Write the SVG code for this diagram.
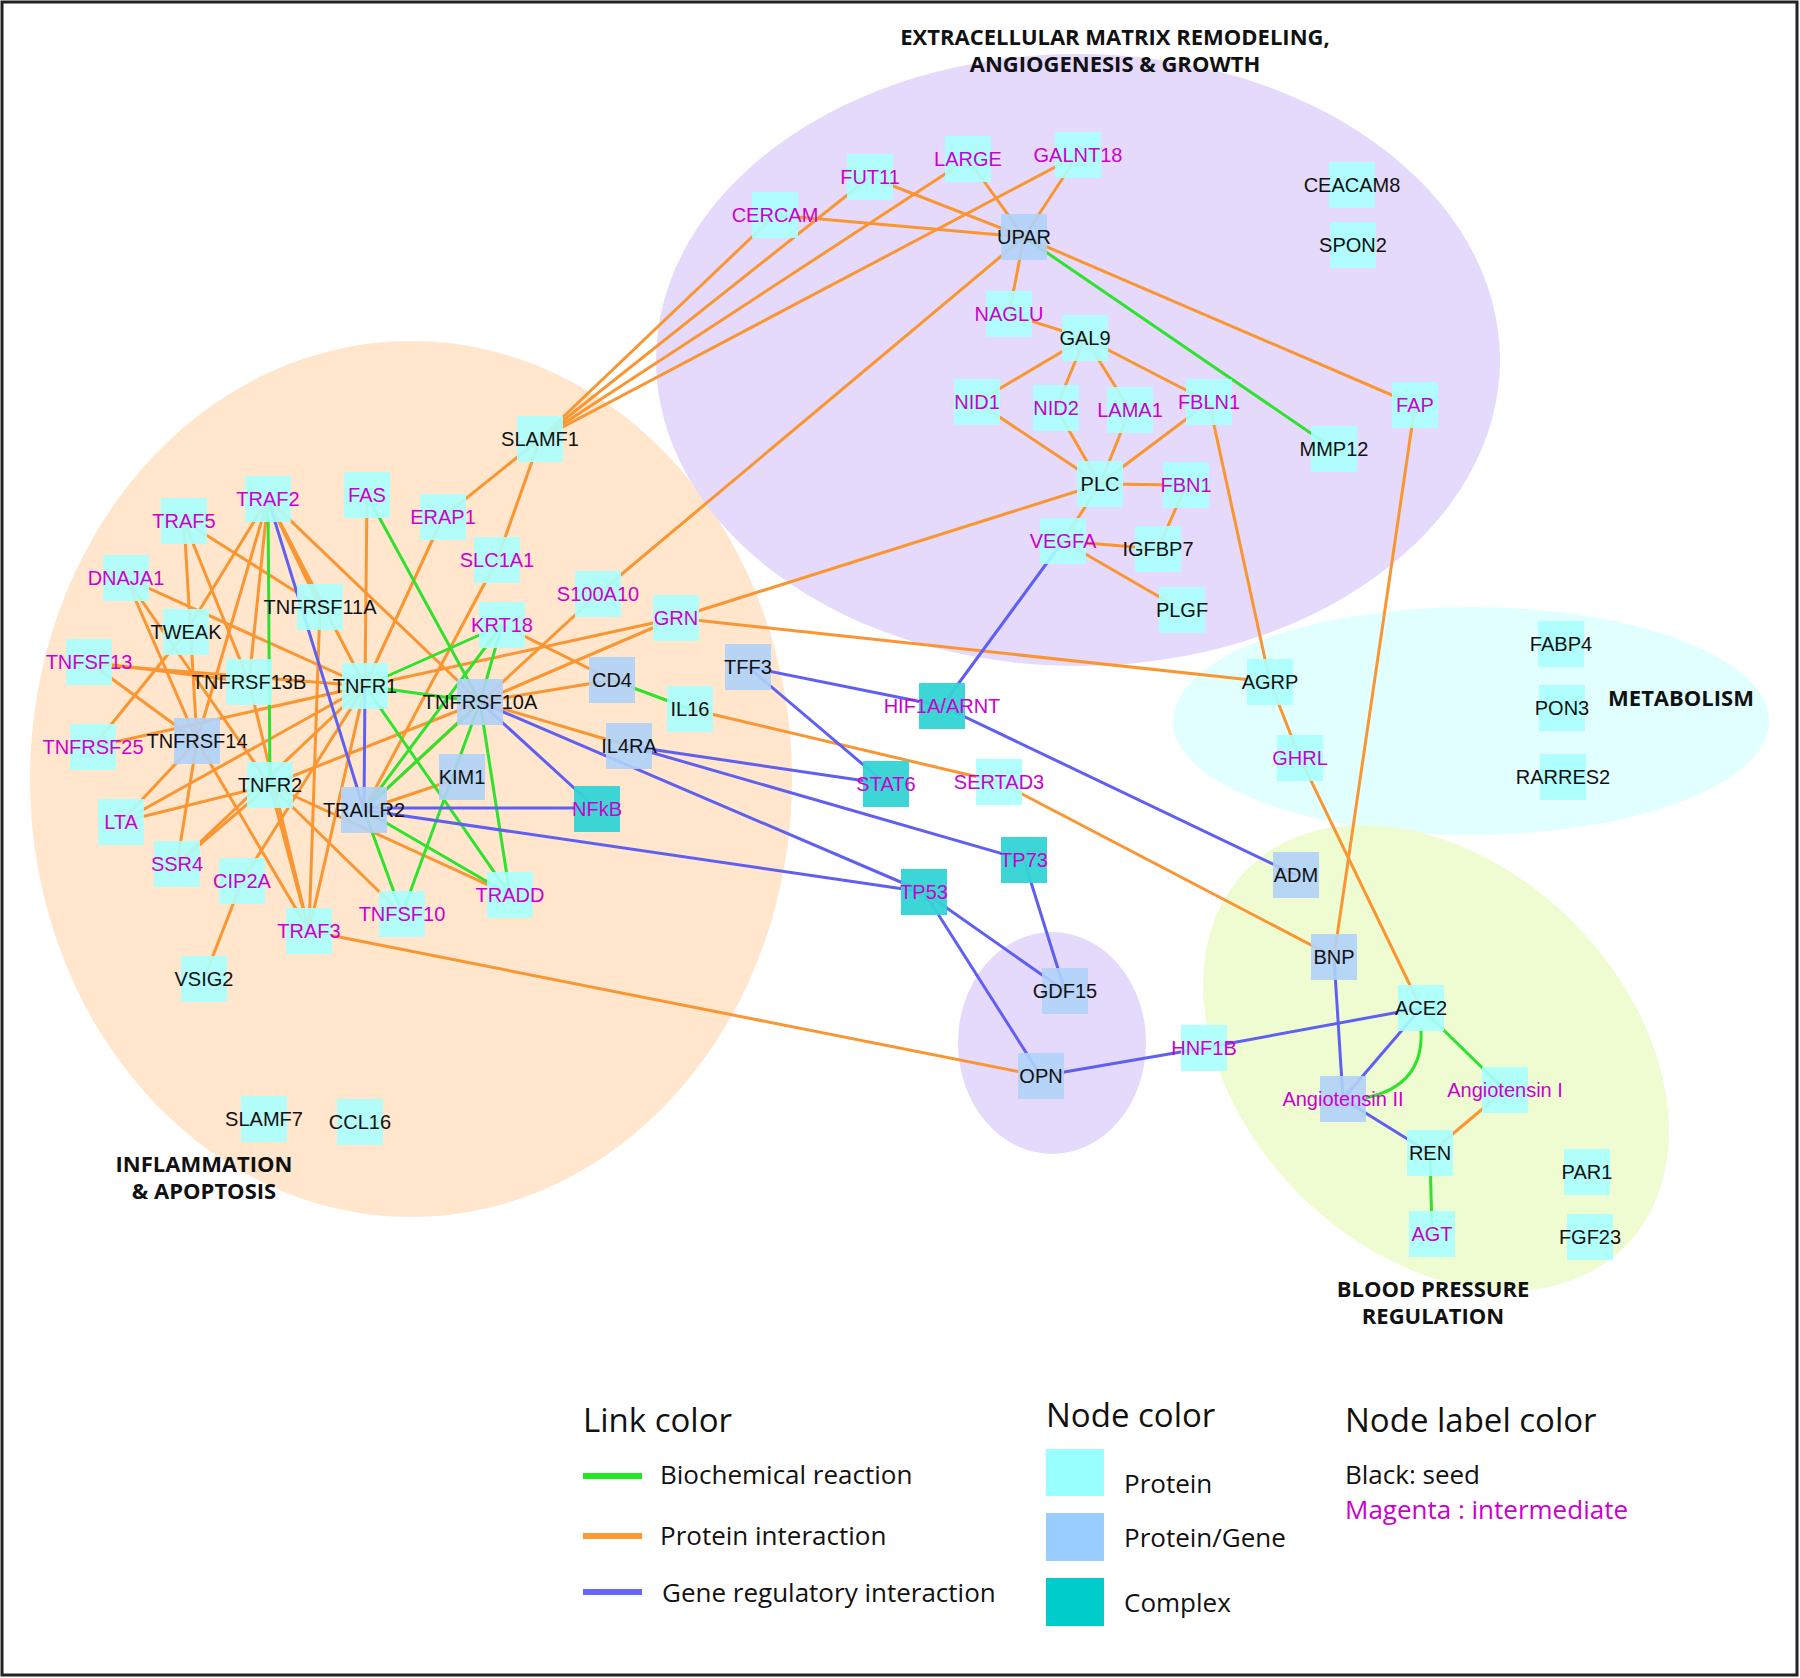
<svg xmlns="http://www.w3.org/2000/svg" width="1800" height="1678" viewBox="0 0 1800 1678">
<style>
.o{stroke:#FA9632;stroke-width:3;fill:none}
.gr{stroke:#2EE22E;stroke-width:3;fill:none}
.b{stroke:#5F5FF2;stroke-width:3;fill:none}
.p{fill:#AAFFFF;fill-opacity:0.9}
.g{fill:#B0D2F8;fill-opacity:0.9}
.c{fill:#33D4D4;fill-opacity:0.95}
text{font-family:"Liberation Sans",Arial,sans-serif}
.lb{font-size:20px;text-anchor:middle}
.k{fill:#111}
.m{fill:#CC00CC}
.rt{font-family:"Open Sans",sans-serif;font-weight:700;font-size:22px;fill:#111;text-anchor:middle}
.lh{font-family:"Open Sans",sans-serif;font-size:33px;fill:#111}
.li{font-family:"Open Sans",sans-serif;font-size:26px;fill:#111}
</style>
<rect x="0" y="0" width="1800" height="1678" fill="#fff"/>
<rect x="2" y="2" width="1795" height="1673" fill="none" stroke="#222" stroke-width="3"/>
<g id="regions">
<ellipse cx="411" cy="779" rx="381" ry="438" fill="#FFE6CC"/>
<ellipse cx="1078" cy="360" rx="422" ry="306" fill="#E5DAFC"/>
<ellipse cx="1471" cy="721" rx="298" ry="114" fill="#E2FFFF"/>
<ellipse cx="1436" cy="1058" rx="267" ry="193" transform="rotate(45 1436 1058)" fill="#EFFCD2"/>
<ellipse cx="1052" cy="1043" rx="94" ry="111" fill="#E5DAFC"/>
<text class="rt" x="1115" y="45">EXTRACELLULAR MATRIX REMODELING,</text>
<text class="rt" x="1115" y="72">ANGIOGENESIS &amp; GROWTH</text>
<text class="rt" x="204" y="1172">INFLAMMATION</text>
<text class="rt" x="204" y="1199">&amp; APOPTOSIS</text>
<text class="rt" x="1681" y="706">METABOLISM</text>
<text class="rt" x="1433" y="1297">BLOOD PRESSURE</text>
<text class="rt" x="1433" y="1324">REGULATION</text>
</g>
<g id="connectors">
<line class="o" x1="268" y1="499" x2="186" y2="632"/>
<line class="o" x1="268" y1="499" x2="197" y2="741"/>
<line class="o" x1="268" y1="499" x2="249" y2="682"/>
<line class="o" x1="268" y1="499" x2="320" y2="607"/>
<line class="o" x1="268" y1="499" x2="365" y2="686"/>
<line class="o" x1="268" y1="499" x2="480" y2="702"/>
<line class="o" x1="184" y1="521" x2="197" y2="741"/>
<line class="o" x1="184" y1="521" x2="249" y2="682"/>
<line class="o" x1="184" y1="521" x2="320" y2="607"/>
<line class="o" x1="126" y1="578" x2="365" y2="686"/>
<line class="o" x1="126" y1="578" x2="197" y2="741"/>
<line class="o" x1="126" y1="578" x2="270" y2="785"/>
<line class="o" x1="186" y1="632" x2="93" y2="747"/>
<line class="o" x1="89" y1="662" x2="249" y2="682"/>
<line class="o" x1="89" y1="664" x2="365" y2="686"/>
<line class="o" x1="89" y1="662" x2="197" y2="741"/>
<line class="o" x1="93" y1="747" x2="365" y2="686"/>
<line class="o" x1="121" y1="822" x2="197" y2="741"/>
<line class="o" x1="121" y1="822" x2="270" y2="785"/>
<line class="o" x1="121" y1="822" x2="365" y2="686"/>
<line class="o" x1="177" y1="864" x2="197" y2="741"/>
<line class="o" x1="177" y1="864" x2="270" y2="785"/>
<line class="o" x1="177" y1="864" x2="365" y2="686"/>
<line class="o" x1="242" y1="881" x2="365" y2="686"/>
<line class="o" x1="242" y1="881" x2="204" y2="979"/>
<line class="o" x1="309" y1="931" x2="197" y2="741"/>
<line class="o" x1="309" y1="931" x2="270" y2="785"/>
<line class="o" x1="309" y1="931" x2="249" y2="682"/>
<line class="o" x1="309" y1="931" x2="320" y2="607"/>
<line class="o" x1="309" y1="931" x2="365" y2="686"/>
<line class="o" x1="309" y1="931" x2="1041" y2="1076"/>
<line class="o" x1="270" y1="785" x2="480" y2="702"/>
<line class="o" x1="270" y1="785" x2="402" y2="914"/>
<line class="o" x1="270" y1="785" x2="510" y2="895"/>
<line class="o" x1="462" y1="777" x2="364" y2="810"/>
<line class="o" x1="367" y1="495" x2="365" y2="686"/>
<line class="o" x1="443" y1="517" x2="365" y2="686"/>
<line class="o" x1="443" y1="517" x2="540" y2="439"/>
<line class="o" x1="497" y1="560" x2="540" y2="439"/>
<line class="o" x1="497" y1="560" x2="364" y2="810"/>
<line class="o" x1="598" y1="594" x2="364" y2="810"/>
<line class="o" x1="598" y1="594" x2="1024" y2="237"/>
<line class="o" x1="676" y1="618" x2="365" y2="686"/>
<line class="o" x1="676" y1="618" x2="480" y2="702"/>
<line class="o" x1="676" y1="618" x2="1100" y2="484"/>
<line class="o" x1="676" y1="618" x2="1270" y2="682"/>
<line class="o" x1="502" y1="625" x2="612" y2="680"/>
<line class="o" x1="480" y1="702" x2="612" y2="680"/>
<line class="o" x1="480" y1="702" x2="629" y2="746"/>
<line class="o" x1="690" y1="709" x2="999" y2="782"/>
<line class="o" x1="999" y1="782" x2="1334" y2="957"/>
<line class="o" x1="540" y1="439" x2="775" y2="215"/>
<line class="o" x1="540" y1="439" x2="870" y2="177"/>
<line class="o" x1="540" y1="439" x2="968" y2="159"/>
<line class="o" x1="540" y1="439" x2="1078" y2="155"/>
<line class="o" x1="775" y1="215" x2="1024" y2="237"/>
<line class="o" x1="870" y1="177" x2="1024" y2="237"/>
<line class="o" x1="968" y1="159" x2="1024" y2="237"/>
<line class="o" x1="1078" y1="155" x2="1024" y2="237"/>
<line class="o" x1="1024" y1="237" x2="1009" y2="314"/>
<line class="o" x1="1009" y1="314" x2="1085" y2="338"/>
<line class="o" x1="1085" y1="338" x2="977" y2="402"/>
<line class="o" x1="1085" y1="338" x2="1056" y2="408"/>
<line class="o" x1="1085" y1="338" x2="1130" y2="410"/>
<line class="o" x1="1085" y1="338" x2="1209" y2="402"/>
<line class="o" x1="977" y1="402" x2="1100" y2="484"/>
<line class="o" x1="1056" y1="408" x2="1100" y2="484"/>
<line class="o" x1="1130" y1="410" x2="1100" y2="484"/>
<line class="o" x1="1209" y1="402" x2="1100" y2="484"/>
<line class="o" x1="1100" y1="484" x2="1186" y2="485"/>
<line class="o" x1="1186" y1="485" x2="1158" y2="549"/>
<line class="o" x1="1100" y1="484" x2="1063" y2="541"/>
<line class="o" x1="1063" y1="541" x2="1158" y2="549"/>
<line class="o" x1="1063" y1="541" x2="1182" y2="610"/>
<line class="o" x1="1209" y1="402" x2="1270" y2="682"/>
<line class="o" x1="1024" y1="237" x2="1415" y2="405"/>
<line class="o" x1="1415" y1="405" x2="1334" y2="957"/>
<line class="o" x1="1270" y1="682" x2="1300" y2="758"/>
<line class="o" x1="1300" y1="758" x2="1421" y2="1008"/>
<line class="o" x1="1430" y1="1153" x2="1505" y2="1090"/>
<line class="gr" x1="268" y1="499" x2="270" y2="785"/>
<line class="gr" x1="367" y1="495" x2="480" y2="702"/>
<line class="gr" x1="502" y1="625" x2="365" y2="686"/>
<line class="gr" x1="502" y1="625" x2="364" y2="810"/>
<line class="gr" x1="502" y1="625" x2="480" y2="702"/>
<line class="gr" x1="365" y1="686" x2="480" y2="702"/>
<line class="gr" x1="365" y1="686" x2="510" y2="895"/>
<line class="gr" x1="480" y1="702" x2="364" y2="810"/>
<line class="gr" x1="364" y1="810" x2="402" y2="914"/>
<line class="gr" x1="364" y1="810" x2="510" y2="895"/>
<line class="gr" x1="480" y1="702" x2="402" y2="914"/>
<line class="gr" x1="480" y1="702" x2="510" y2="895"/>
<line class="gr" x1="612" y1="680" x2="690" y2="709"/>
<line class="gr" x1="1024" y1="237" x2="1334" y2="449"/>
<line class="gr" x1="1421" y1="1008" x2="1505" y2="1090"/>
<line class="gr" x1="1430" y1="1153" x2="1432" y2="1234"/>
<path class="gr" d="M1421,1030 Q1424,1086 1365,1098"/>
<line class="b" x1="268" y1="499" x2="364" y2="810"/>
<line class="b" x1="365" y1="686" x2="364" y2="810"/>
<line class="b" x1="364" y1="808" x2="597" y2="808"/>
<line class="b" x1="364" y1="810" x2="924" y2="892"/>
<line class="b" x1="480" y1="702" x2="597" y2="809"/>
<line class="b" x1="480" y1="702" x2="924" y2="892"/>
<line class="b" x1="629" y1="746" x2="886" y2="784"/>
<line class="b" x1="629" y1="746" x2="1024" y2="860"/>
<line class="b" x1="748" y1="667" x2="942" y2="706"/>
<line class="b" x1="748" y1="667" x2="886" y2="784"/>
<line class="b" x1="942" y1="706" x2="1063" y2="541"/>
<line class="b" x1="942" y1="706" x2="1296" y2="875"/>
<line class="b" x1="924" y1="892" x2="1065" y2="991"/>
<line class="b" x1="924" y1="892" x2="1041" y2="1076"/>
<line class="b" x1="1024" y1="860" x2="1065" y2="991"/>
<line class="b" x1="1041" y1="1076" x2="1204" y2="1048"/>
<line class="b" x1="1204" y1="1048" x2="1421" y2="1008"/>
<line class="b" x1="1334" y1="957" x2="1343" y2="1099"/>
<line class="b" x1="1421" y1="1008" x2="1343" y2="1099"/>
<line class="b" x1="1343" y1="1099" x2="1430" y2="1153"/>
</g>
<g id="nodes">
<g id="node-TRAF2"><rect class="p" x="245" y="476" width="46" height="46"/><text class="lb m" x="268" y="506">TRAF2</text></g>
<g id="node-TRAF5"><rect class="p" x="161" y="498" width="46" height="46"/><text class="lb m" x="184" y="528">TRAF5</text></g>
<g id="node-FAS"><rect class="p" x="344" y="472" width="46" height="46"/><text class="lb m" x="367" y="502">FAS</text></g>
<g id="node-ERAP1"><rect class="p" x="420" y="494" width="46" height="46"/><text class="lb m" x="443" y="524">ERAP1</text></g>
<g id="node-SLC1A1"><rect class="p" x="474" y="537" width="46" height="46"/><text class="lb m" x="497" y="567">SLC1A1</text></g>
<g id="node-DNAJA1"><rect class="p" x="103" y="555" width="46" height="46"/><text class="lb m" x="126" y="585">DNAJA1</text></g>
<g id="node-TNFRSF11A"><rect class="p" x="297" y="584" width="46" height="46"/><text class="lb k" x="320" y="614">TNFRSF11A</text></g>
<g id="node-TWEAK"><rect class="p" x="163" y="609" width="46" height="46"/><text class="lb k" x="186" y="639">TWEAK</text></g>
<g id="node-TNFSF13"><rect class="p" x="66" y="639" width="46" height="46"/><text class="lb m" x="89" y="669">TNFSF13</text></g>
<g id="node-TNFRSF13B"><rect class="p" x="226" y="659" width="46" height="46"/><text class="lb k" x="249" y="689">TNFRSF13B</text></g>
<g id="node-TNFR1"><rect class="p" x="342" y="663" width="46" height="46"/><text class="lb k" x="365" y="693">TNFR1</text></g>
<g id="node-KRT18"><rect class="p" x="479" y="602" width="46" height="46"/><text class="lb m" x="502" y="632">KRT18</text></g>
<g id="node-TNFRSF10A"><rect class="g" x="457" y="679" width="46" height="46"/><text class="lb k" x="480" y="709">TNFRSF10A</text></g>
<g id="node-TNFRSF25"><rect class="p" x="70" y="724" width="46" height="46"/><text class="lb m" x="93" y="754">TNFRSF25</text></g>
<g id="node-TNFRSF14"><rect class="g" x="174" y="718" width="46" height="46"/><text class="lb k" x="197" y="748">TNFRSF14</text></g>
<g id="node-TNFR2"><rect class="p" x="247" y="762" width="46" height="46"/><text class="lb k" x="270" y="792">TNFR2</text></g>
<g id="node-KIM1"><rect class="g" x="439" y="754" width="46" height="46"/><text class="lb k" x="462" y="784">KIM1</text></g>
<g id="node-TRAILR2"><rect class="g" x="341" y="787" width="46" height="46"/><text class="lb k" x="364" y="817">TRAILR2</text></g>
<g id="node-LTA"><rect class="p" x="98" y="799" width="46" height="46"/><text class="lb m" x="121" y="829">LTA</text></g>
<g id="node-SSR4"><rect class="p" x="154" y="841" width="46" height="46"/><text class="lb m" x="177" y="871">SSR4</text></g>
<g id="node-CIP2A"><rect class="p" x="219" y="858" width="46" height="46"/><text class="lb m" x="242" y="888">CIP2A</text></g>
<g id="node-TRAF3"><rect class="p" x="286" y="908" width="46" height="46"/><text class="lb m" x="309" y="938">TRAF3</text></g>
<g id="node-TNFSF10"><rect class="p" x="379" y="891" width="46" height="46"/><text class="lb m" x="402" y="921">TNFSF10</text></g>
<g id="node-TRADD"><rect class="p" x="487" y="872" width="46" height="46"/><text class="lb m" x="510" y="902">TRADD</text></g>
<g id="node-VSIG2"><rect class="p" x="181" y="956" width="46" height="46"/><text class="lb k" x="204" y="986">VSIG2</text></g>
<g id="node-SLAMF7"><rect class="p" x="241" y="1096" width="46" height="46"/><text class="lb k" x="264" y="1126">SLAMF7</text></g>
<g id="node-CCL16"><rect class="p" x="337" y="1099" width="46" height="46"/><text class="lb k" x="360" y="1129">CCL16</text></g>
<g id="node-SLAMF1"><rect class="p" x="517" y="416" width="46" height="46"/><text class="lb k" x="540" y="446">SLAMF1</text></g>
<g id="node-S100A10"><rect class="p" x="575" y="571" width="46" height="46"/><text class="lb m" x="598" y="601">S100A10</text></g>
<g id="node-GRN"><rect class="p" x="653" y="595" width="46" height="46"/><text class="lb m" x="676" y="625">GRN</text></g>
<g id="node-CD4"><rect class="g" x="589" y="657" width="46" height="46"/><text class="lb k" x="612" y="687">CD4</text></g>
<g id="node-IL16"><rect class="p" x="667" y="686" width="46" height="46"/><text class="lb k" x="690" y="716">IL16</text></g>
<g id="node-IL4RA"><rect class="g" x="606" y="723" width="46" height="46"/><text class="lb k" x="629" y="753">IL4RA</text></g>
<g id="node-NFkB"><rect class="c" x="574" y="786" width="46" height="46"/><text class="lb m" x="597" y="816">NFkB</text></g>
<g id="node-TFF3"><rect class="g" x="725" y="644" width="46" height="46"/><text class="lb k" x="748" y="674">TFF3</text></g>
<g id="node-HIF1A-ARNT"><rect class="c" x="919" y="683" width="46" height="46"/><text class="lb m" x="942" y="713">HIF1A/ARNT</text></g>
<g id="node-STAT6"><rect class="c" x="863" y="761" width="46" height="46"/><text class="lb m" x="886" y="791">STAT6</text></g>
<g id="node-SERTAD3"><rect class="p" x="976" y="759" width="46" height="46"/><text class="lb m" x="999" y="789">SERTAD3</text></g>
<g id="node-TP73"><rect class="c" x="1001" y="837" width="46" height="46"/><text class="lb m" x="1024" y="867">TP73</text></g>
<g id="node-TP53"><rect class="c" x="901" y="869" width="46" height="46"/><text class="lb m" x="924" y="899">TP53</text></g>
<g id="node-GDF15"><rect class="g" x="1042" y="968" width="46" height="46"/><text class="lb k" x="1065" y="998">GDF15</text></g>
<g id="node-OPN"><rect class="g" x="1018" y="1053" width="46" height="46"/><text class="lb k" x="1041" y="1083">OPN</text></g>
<g id="node-HNF1B"><rect class="p" x="1181" y="1025" width="46" height="46"/><text class="lb m" x="1204" y="1055">HNF1B</text></g>
<g id="node-ADM"><rect class="g" x="1273" y="852" width="46" height="46"/><text class="lb k" x="1296" y="882">ADM</text></g>
<g id="node-BNP"><rect class="g" x="1311" y="934" width="46" height="46"/><text class="lb k" x="1334" y="964">BNP</text></g>
<g id="node-ACE2"><rect class="p" x="1398" y="985" width="46" height="46"/><text class="lb k" x="1421" y="1015">ACE2</text></g>
<g id="node-AngiotensinII"><rect class="g" x="1320" y="1076" width="46" height="46"/><text class="lb m" x="1343" y="1106">Angiotensin II</text></g>
<g id="node-AngiotensinI"><rect class="p" x="1482" y="1067" width="46" height="46"/><text class="lb m" x="1505" y="1097">Angiotensin I</text></g>
<g id="node-REN"><rect class="p" x="1407" y="1130" width="46" height="46"/><text class="lb k" x="1430" y="1160">REN</text></g>
<g id="node-AGT"><rect class="p" x="1409" y="1211" width="46" height="46"/><text class="lb m" x="1432" y="1241">AGT</text></g>
<g id="node-PAR1"><rect class="p" x="1564" y="1149" width="46" height="46"/><text class="lb k" x="1587" y="1179">PAR1</text></g>
<g id="node-FGF23"><rect class="p" x="1567" y="1214" width="46" height="46"/><text class="lb k" x="1590" y="1244">FGF23</text></g>
<g id="node-AGRP"><rect class="p" x="1247" y="659" width="46" height="46"/><text class="lb k" x="1270" y="689">AGRP</text></g>
<g id="node-GHRL"><rect class="p" x="1277" y="735" width="46" height="46"/><text class="lb m" x="1300" y="765">GHRL</text></g>
<g id="node-FABP4"><rect class="p" x="1538" y="621" width="46" height="46"/><text class="lb k" x="1561" y="651">FABP4</text></g>
<g id="node-PON3"><rect class="p" x="1539" y="685" width="46" height="46"/><text class="lb k" x="1562" y="715">PON3</text></g>
<g id="node-RARRES2"><rect class="p" x="1540" y="754" width="46" height="46"/><text class="lb k" x="1563" y="784">RARRES2</text></g>
<g id="node-CERCAM"><rect class="p" x="752" y="192" width="46" height="46"/><text class="lb m" x="775" y="222">CERCAM</text></g>
<g id="node-FUT11"><rect class="p" x="847" y="154" width="46" height="46"/><text class="lb m" x="870" y="184">FUT11</text></g>
<g id="node-LARGE"><rect class="p" x="945" y="136" width="46" height="46"/><text class="lb m" x="968" y="166">LARGE</text></g>
<g id="node-GALNT18"><rect class="p" x="1055" y="132" width="46" height="46"/><text class="lb m" x="1078" y="162">GALNT18</text></g>
<g id="node-UPAR"><rect class="g" x="1001" y="214" width="46" height="46"/><text class="lb k" x="1024" y="244">UPAR</text></g>
<g id="node-NAGLU"><rect class="p" x="986" y="291" width="46" height="46"/><text class="lb m" x="1009" y="321">NAGLU</text></g>
<g id="node-GAL9"><rect class="p" x="1062" y="315" width="46" height="46"/><text class="lb k" x="1085" y="345">GAL9</text></g>
<g id="node-NID1"><rect class="p" x="954" y="379" width="46" height="46"/><text class="lb m" x="977" y="409">NID1</text></g>
<g id="node-NID2"><rect class="p" x="1033" y="385" width="46" height="46"/><text class="lb m" x="1056" y="415">NID2</text></g>
<g id="node-LAMA1"><rect class="p" x="1107" y="387" width="46" height="46"/><text class="lb m" x="1130" y="417">LAMA1</text></g>
<g id="node-FBLN1"><rect class="p" x="1186" y="379" width="46" height="46"/><text class="lb m" x="1209" y="409">FBLN1</text></g>
<g id="node-FAP"><rect class="p" x="1392" y="382" width="46" height="46"/><text class="lb m" x="1415" y="412">FAP</text></g>
<g id="node-MMP12"><rect class="p" x="1311" y="426" width="46" height="46"/><text class="lb k" x="1334" y="456">MMP12</text></g>
<g id="node-PLC"><rect class="p" x="1077" y="461" width="46" height="46"/><text class="lb k" x="1100" y="491">PLC</text></g>
<g id="node-FBN1"><rect class="p" x="1163" y="462" width="46" height="46"/><text class="lb m" x="1186" y="492">FBN1</text></g>
<g id="node-VEGFA"><rect class="p" x="1040" y="518" width="46" height="46"/><text class="lb m" x="1063" y="548">VEGFA</text></g>
<g id="node-IGFBP7"><rect class="p" x="1135" y="526" width="46" height="46"/><text class="lb k" x="1158" y="556">IGFBP7</text></g>
<g id="node-PLGF"><rect class="p" x="1159" y="587" width="46" height="46"/><text class="lb k" x="1182" y="617">PLGF</text></g>
<g id="node-CEACAM8"><rect class="p" x="1329" y="162" width="46" height="46"/><text class="lb k" x="1352" y="192">CEACAM8</text></g>
<g id="node-SPON2"><rect class="p" x="1330" y="222" width="46" height="46"/><text class="lb k" x="1353" y="252">SPON2</text></g>
</g>
<g id="legend">
<text class="lh" x="583" y="1432">Link color</text>
<line x1="583" y1="1476" x2="642" y2="1476" stroke="#22E822" stroke-width="6"/>
<text class="li" x="660" y="1484">Biochemical reaction</text>
<line x1="583" y1="1536" x2="642" y2="1536" stroke="#FF9933" stroke-width="6"/>
<text class="li" x="660" y="1545">Protein interaction</text>
<line x1="583" y1="1592" x2="642" y2="1592" stroke="#6666FF" stroke-width="6"/>
<text class="li" x="662" y="1602">Gene regulatory interaction</text>
<text class="lh" x="1046" y="1427">Node color</text>
<rect x="1046" y="1449" width="58" height="47" fill="#99FFFF"/>
<text class="li" x="1124" y="1493">Protein</text>
<rect x="1046" y="1513" width="58" height="48" fill="#99CCFF"/>
<text class="li" x="1124" y="1547">Protein/Gene</text>
<rect x="1046" y="1578" width="58" height="48" fill="#00CCCC"/>
<text class="li" x="1124" y="1612">Complex</text>
<text class="lh" x="1345" y="1432">Node label color</text>
<text class="li" x="1345" y="1484">Black: seed</text>
<text class="li" x="1345" y="1519" fill="#CC00CC" style="fill:#CC00CC">Magenta : intermediate</text>
</g>
</svg>
